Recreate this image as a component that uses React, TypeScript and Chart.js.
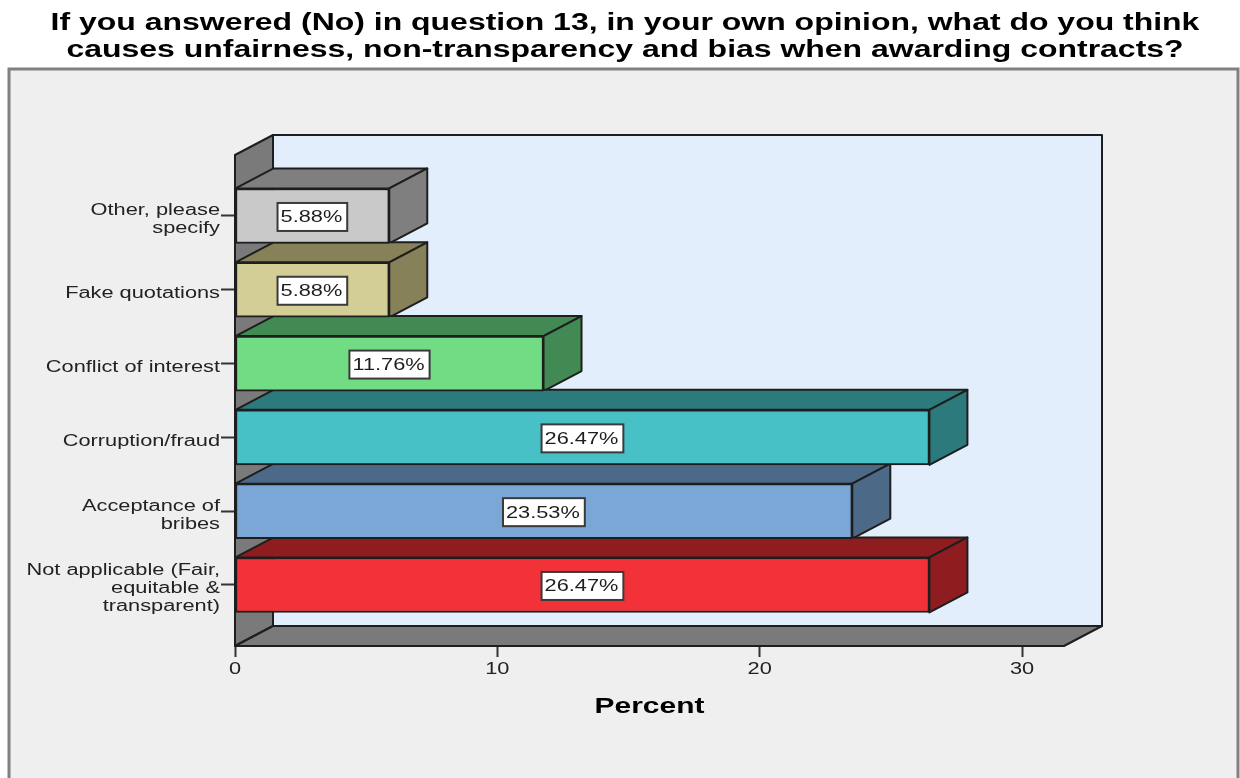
import { useEffect, useRef } from "react";
import { Chart, registerables } from "chart.js";

Chart.register(...registerables);

// Bottom-to-top order, as the y scale counts upward.
const categoryLines: string[][] = [
  ["Not applicable (Fair,", "equitable &", "transparent)"],
  ["Acceptance of", "bribes"],
  ["Corruption/fraud"],
  ["Conflict of interest"],
  ["Fake quotations"],
  ["Other, please", "specify"],
];
const percents: number[] = [26.47, 23.53, 26.47, 11.76, 5.88, 5.88];
const frontColors: string[] = ["#f23238", "#7aa7d6", "#47c1c5", "#72dc84", "#d3cd96", "#c9c9c9"];
const depthColors: string[] = ["#8f1d20", "#4c6a87", "#2c7a7c", "#428a53", "#868158", "#7f7f7f"];
const xTickStep = 10;
const titleLines: string[] = [
  "If you answered (No) in question 13, in your own opinion, what do you think",
  "causes unfairness, non-transparency and bias when awarding contracts?",
];

const DEPTH_X = 38;
const DEPTH_Y = -20;
const INK = "#1e1e1e";
const FONT = "'Liberation Sans', Arial, sans-serif";
const TEXT_STRETCH = 1.36;
const LABEL_SIZE = 16;

function poly(ctx: CanvasRenderingContext2D, pts: number[][], fill: string, lw = 2) {
  ctx.beginPath();
  pts.forEach(([x, y], i) => (i ? ctx.lineTo(x, y) : ctx.moveTo(x, y)));
  ctx.closePath();
  ctx.fillStyle = fill;
  ctx.fill();
  ctx.lineWidth = lw;
  ctx.strokeStyle = INK;
  ctx.lineJoin = "round";
  ctx.stroke();
}

// Grey panel behind the whole chart; the title is centred over the panel, not the plot.
const panelPlugin = {
  id: "panel",
  afterLayout(chart: any) {
    chart.titleBlock.left = 10;
    chart.titleBlock.right = chart.width;
  },
  beforeDraw(chart: any) {
    const { ctx } = chart;
    ctx.save();
    ctx.fillStyle = "#efefef";
    ctx.strokeStyle = "#808080";
    ctx.lineWidth = 3;
    ctx.fillRect(9, 69, 1229, 730);
    ctx.strokeRect(9, 69, 1229, 730);
    ctx.restore();
  },
};

// Back wall, side wall, floor and the top and end faces of each bar.
const depthPlugin = {
  id: "depth",
  beforeDatasetsDraw(chart: any) {
    const { ctx, chartArea: a } = chart;
    const dx = DEPTH_X;
    const dy = DEPTH_Y;
    ctx.save();
    poly(ctx, [[a.left + dx, a.top + dy], [a.right + dx, a.top + dy], [a.right + dx, a.bottom + dy], [a.left + dx, a.bottom + dy]], "#e2eefb");
    poly(ctx, [[a.left, a.top], [a.left + dx, a.top + dy], [a.left + dx, a.bottom + dy], [a.left, a.bottom]], "#7a7a7a");
    poly(ctx, [[a.left, a.bottom], [a.left + dx, a.bottom + dy], [a.right + dx, a.bottom + dy], [a.right, a.bottom]], "#7a7a7a");
    const bars = chart.getDatasetMeta(0).data;
    for (let i = bars.length - 1; i >= 0; i--) {
      const { x, y, base, height } = bars[i].getProps(["x", "y", "base", "height"], true);
      const top = y - height / 2;
      const bottom = y + height / 2;
      poly(ctx, [[base, top], [base + dx, top + dy], [x + dx, top + dy], [x, top]], depthColors[i]);
      poly(ctx, [[x, top], [x + dx, top + dy], [x + dx, bottom + dy], [x, bottom]], depthColors[i]);
    }
    ctx.restore();
  },
  // White value boxes centred on each bar's front face.
  afterDatasetsDraw(chart: any) {
    const { ctx } = chart;
    const bars = chart.getDatasetMeta(0).data;
    ctx.save();
    ctx.font = `${LABEL_SIZE}px ${FONT}`;
    ctx.textAlign = "center";
    ctx.textBaseline = "middle";
    bars.forEach((bar: any, i: number) => {
      const { x, y, base } = bar.getProps(["x", "y", "base"], true);
      const label = `${percents[i].toFixed(2)}%`;
      const w = ctx.measureText(label).width * TEXT_STRETCH + 8;
      const h = 28;
      const cx = (x + base) / 2;
      ctx.fillStyle = "#ffffff";
      ctx.fillRect(cx - w / 2, y - h / 2 + 1, w, h);
      ctx.strokeStyle = "#3a3a3a";
      ctx.lineWidth = 2;
      ctx.strokeRect(cx - w / 2, y - h / 2 + 1, w, h);
      ctx.fillStyle = INK;
      ctx.fillText(label, cx - 1, y + 2);
    });
    ctx.restore();
  },
};

export default function App() {
  const ref = useRef<HTMLCanvasElement>(null);

  useEffect(() => {
    document.body.style.margin = "0";
    const canvas = ref.current!;
    const ctx = canvas.getContext("2d") as any;

    // All lettering in this chart is set wide: scale each string about its anchor.
    const plainFillText = ctx.fillText.bind(ctx);
    ctx.fillText = (text: string, x: number, y: number) => {
      ctx.save();
      ctx.translate(x, y);
      ctx.scale(TEXT_STRETCH, 1);
      plainFillText(text, 0, 0);
      ctx.restore();
    };

    const chart = new Chart(canvas, {
      type: "bar",
      data: {
        datasets: [
          {
            data: percents.map((v, i) => ({ x: v, y: i })),
            backgroundColor: frontColors,
            borderColor: INK,
            borderWidth: 2,
            borderSkipped: false,
            barThickness: 55,
          },
        ],
      } as any,
      options: {
        indexAxis: "y",
        animation: false,
        responsive: false,
        layout: { padding: { left: 0, right: 176, top: 0, bottom: 0 } },
        plugins: {
          legend: { display: false },
          tooltip: { enabled: false },
          title: {
            display: true,
            text: titleLines,
            color: "#000000",
            font: { family: FONT, size: 23.5, weight: "bold", lineHeight: 27 / 23.5 },
            padding: { top: 10, bottom: 91 },
          },
        },
        scales: {
          x: {
            type: "linear",
            min: 0,
            max: 31.6,
            border: { display: false },
            grid: { drawOnChartArea: false, tickLength: 11, tickColor: "#333333", tickWidth: 2 },
            ticks: {
              stepSize: xTickStep,
              includeBounds: false,
              maxRotation: 0,
              color: "#222222",
              padding: 3,
              font: { family: FONT, size: LABEL_SIZE },
            },
            title: {
              display: true,
              text: "Percent",
              color: "#000000",
              font: { family: FONT, size: 22, weight: "bold", lineHeight: 1.1 },
              padding: { top: 0, bottom: 59 },
            },
            afterFit(scale: any) {
              scale.height = 132;
            },
          },
          y: {
            type: "linear",
            offset: false,
            min: -0.827,
            max: 5.826,
            border: { display: false },
            grid: { offset: false, drawOnChartArea: false, tickLength: 14, tickColor: "#333333", tickWidth: 2 },
            ticks: {
              stepSize: 1,
              includeBounds: false,
              color: "#222222",
              padding: 1,
              labelOffset: 4,
              font: { family: FONT, size: LABEL_SIZE, lineHeight: 18 / LABEL_SIZE },
              callback: (v: any) => categoryLines[v] ?? "",
            },
            afterFit(scale: any) {
              scale.width = 235;
            },
          },
        },
      } as any,
      plugins: [panelPlugin, depthPlugin],
    });
    return () => chart.destroy();
  }, []);

  return <canvas ref={ref} width={1240} height={778} style={{ display: "block" }} />;
}
